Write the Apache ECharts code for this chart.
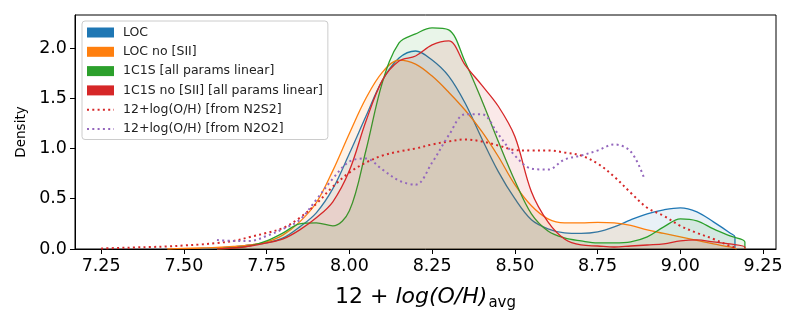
<!DOCTYPE html>
<html>
<head>
<meta charset="utf-8">
<script src="https://cdn.jsdelivr.net/npm/echarts@6/dist/echarts.min.js"></script>
<style>
  html, body { margin: 0; padding: 0; background: #fff; }
  #chart { width: 800px; height: 325px; }
</style>
</head>
<body>
<div id="chart"></div>
<script>
// tick labels
var xTicks = [7.25, 7.5, 7.75, 8.0, 8.25, 8.5, 8.75, 9.0, 9.25];
var yTicks = [0, 0.5, 1.0, 1.5, 2.0];

// series names
var names = ['LOC', 'LOC no [SII]', '1C1S [all params linear]', '1C1S no [SII] [all params linear]',
             '12+log(O/H) [from N2S2]', '12+log(O/H) [from N2O2]'];

// KDE curves: [12+log(O/H), density]
var loc = [[7.55,0.005],[7.60,0.01],[7.65,0.02],[7.70,0.04],[7.75,0.06],[7.80,0.11],[7.85,0.22],[7.90,0.36],
  [7.95,0.60],[8.00,0.95],[8.05,1.32],[8.10,1.68],[8.15,1.90],[8.20,1.97],[8.25,1.88],[8.30,1.72],[8.35,1.45],
  [8.40,1.10],[8.45,0.77],[8.50,0.50],[8.55,0.29],[8.60,0.20],[8.65,0.16],[8.70,0.155],[8.75,0.17],[8.80,0.22],
  [8.85,0.29],[8.90,0.35],[8.95,0.39],[9.00,0.41],[9.05,0.37],[9.10,0.27],[9.15,0.16],[9.165,0.12],[9.165,0]];

var locNoS = [[7.45,0.0],[7.50,0.005],[7.55,0.01],[7.60,0.015],[7.65,0.025],[7.70,0.04],[7.75,0.07],[7.80,0.14],
  [7.85,0.27],[7.90,0.46],[7.95,0.78],[8.00,1.15],[8.05,1.50],[8.10,1.76],[8.15,1.88],[8.20,1.84],[8.25,1.72],
  [8.30,1.56],[8.35,1.38],[8.40,1.17],[8.45,0.92],[8.50,0.64],[8.55,0.43],[8.60,0.30],[8.65,0.26],[8.70,0.26],
  [8.75,0.265],[8.80,0.26],[8.85,0.235],[8.90,0.19],[8.95,0.155],[9.00,0.12],[9.05,0.085],[9.10,0.05],
  [9.15,0.02],[9.17,0.0]];

var oneC = [[7.60,0.0],[7.65,0.01],[7.70,0.03],[7.75,0.08],[7.80,0.16],[7.85,0.25],[7.90,0.26],[7.95,0.23],
  [8.00,0.38],[8.05,0.98],[8.10,1.66],[8.15,2.05],[8.20,2.14],[8.25,2.20],[8.30,2.18],[8.35,1.86],[8.40,1.48],
  [8.45,1.07],[8.50,0.68],[8.55,0.35],[8.60,0.18],[8.65,0.11],[8.70,0.08],[8.75,0.06],[8.80,0.06],[8.85,0.07],
  [8.90,0.12],[8.95,0.22],[9.00,0.30],[9.05,0.28],[9.10,0.20],[9.15,0.13],[9.195,0.07],[9.195,0]];

var oneCNoS = [[7.60,0.0],[7.65,0.01],[7.70,0.03],[7.75,0.06],[7.80,0.10],[7.85,0.19],[7.90,0.31],[7.95,0.47],
  [8.00,0.78],[8.05,1.27],[8.10,1.68],[8.15,1.87],[8.20,1.92],[8.25,2.03],[8.30,2.07],[8.35,1.83],[8.40,1.63],
  [8.45,1.42],[8.50,1.12],[8.55,0.57],[8.60,0.27],[8.65,0.10],[8.70,0.04],[8.75,0.03],[8.80,0.02],[8.85,0.03],
  [8.90,0.04],[8.95,0.05],[9.00,0.08],[9.05,0.09],[9.10,0.07],[9.15,0.05],[9.195,0.02],[9.195,0]];

var n2s2 = [[7.25,0.005],[7.30,0.01],[7.35,0.015],[7.40,0.02],[7.45,0.025],[7.50,0.035],[7.55,0.045],[7.60,0.06],
  [7.65,0.08],[7.70,0.12],[7.75,0.16],[7.80,0.21],[7.85,0.31],[7.90,0.45],[7.95,0.62],[8.00,0.76],[8.05,0.86],
  [8.10,0.93],[8.15,0.97],[8.20,1.00],[8.25,1.04],[8.30,1.07],[8.35,1.09],[8.40,1.07],[8.45,1.03],[8.50,0.985],
  [8.55,0.98],[8.60,0.98],[8.65,0.96],[8.70,0.93],[8.75,0.85],[8.80,0.72],[8.85,0.56],[8.90,0.41],[8.95,0.33],
  [9.00,0.23],[9.05,0.16],[9.10,0.10],[9.15,0.03],[9.17,0.01]];

var n2o2 = [[7.60,0.09],[7.65,0.08],[7.70,0.08],[7.75,0.13],[7.80,0.20],[7.85,0.29],[7.90,0.49],[7.95,0.70],
  [8.00,0.87],[8.05,0.90],[8.10,0.79],[8.15,0.68],[8.20,0.64],[8.25,0.86],[8.30,1.13],[8.35,1.34],[8.40,1.34],
  [8.45,1.14],[8.50,0.93],[8.55,0.80],[8.60,0.79],[8.65,0.89],[8.70,0.93],[8.75,0.98],[8.80,1.04],[8.85,0.97],
  [8.89,0.71]];

var colors = ['#1f77b4', '#ff7f0e', '#2ca02c', '#d62728', '#d62728', '#9467bd'];
var font = 'DejaVu Sans';

var chart = {
	init : function(){
		var myChart = echarts.init(document.getElementById('chart'));
		myChart.setOption(chart.options());
	},

	// filled kde curve
	filled : function(i, data){
		return {
			name: names[i],
			type: 'line',
			data: data,
			smooth: 0.35,
			symbol: 'none',
			color: colors[i],
			lineStyle: { width: 1.3, color: colors[i] },
			areaStyle: { color: colors[i], opacity: 0.1 },
			z: 2 + i
		};
	},

	// dotted kde curve, no fill
	dotted : function(i, data){
		return {
			name: names[i],
			type: 'line',
			data: data,
			smooth: 0.35,
			symbol: 'none',
			color: colors[i],
			lineStyle: { width: 2, color: colors[i], type: [2, 3.3] },
			z: 2 + i
		};
	},

	options : function(){
		return {
			animation: false,
			backgroundColor: '#fff',
			grid: {
				left: 75, right: 24, top: 15, bottom: 76,
				show: true, borderColor: '#000', borderWidth: 1, backgroundColor: 'transparent'
			},
			legend: {
				orient: 'vertical',
				left: 82, top: 21,
				itemWidth: 27, itemHeight: 10, itemGap: 6.3,
				padding: [5, 5, 4, 4],
				backgroundColor: 'rgba(255,255,255,0.8)',
				borderColor: '#cccccc', borderWidth: 1, borderRadius: 3,
				textStyle: { fontFamily: font, fontSize: 12.5, color: '#222', padding: [0, 0, 0, 4] },
				data: [
					{ name: names[0], icon: 'rect' },
					{ name: names[1], icon: 'rect' },
					{ name: names[2], icon: 'rect' },
					{ name: names[3], icon: 'rect' },
					{ name: names[4], itemStyle: { opacity: 0 } },
					{ name: names[5], itemStyle: { opacity: 0 } }
				]
			},
			xAxis: {
				type: 'value',
				min: 7.171, max: 9.289,
				name: '{a|12 + }{b|log(O/H)}{c|avg}',
				nameLocation: 'middle',
				nameGap: 35,
				nameTextStyle: {
					rich: {
						a: { fontFamily: font, fontSize: 22, color: '#000' },
						b: { fontFamily: font, fontSize: 22, fontStyle: 'italic', color: '#000' },
						c: { fontFamily: font, fontSize: 15, color: '#000', verticalAlign: 'bottom', padding: [12, 0, 0, 1] }
					}
				},
				axisLine: { show: true, onZero: false, lineStyle: { color: '#000', width: 1 } },
				axisTick: { show: true, length: 5, customValues: xTicks, lineStyle: { color: '#000' } },
				axisLabel: {
					customValues: xTicks,
					formatter: function(v){ return v.toFixed(2); },
					fontFamily: font, fontSize: 17.5, color: '#000', margin: 8
				},
				splitLine: { show: false }
			},
			yAxis: {
				type: 'value',
				min: 0, max: 2.328,
				name: 'Density',
				nameLocation: 'middle',
				nameGap: 47,
				nameTextStyle: { fontFamily: font, fontSize: 13.5, color: '#000' },
				axisLine: { show: true, lineStyle: { color: '#000', width: 1 } },
				axisTick: { show: true, length: 5, customValues: yTicks, lineStyle: { color: '#000' } },
				axisLabel: {
					customValues: yTicks,
					formatter: function(v){ return v.toFixed(1); },
					fontFamily: font, fontSize: 17.5, color: '#000', margin: 8
				},
				splitLine: { show: false }
			},
			series: [
				chart.filled(0, loc),
				chart.filled(1, locNoS),
				chart.filled(2, oneC),
				chart.filled(3, oneCNoS),
				chart.dotted(4, n2s2),
				chart.dotted(5, n2o2)
			]
		};
	}
};

chart.init();
</script>
</body>
</html>
